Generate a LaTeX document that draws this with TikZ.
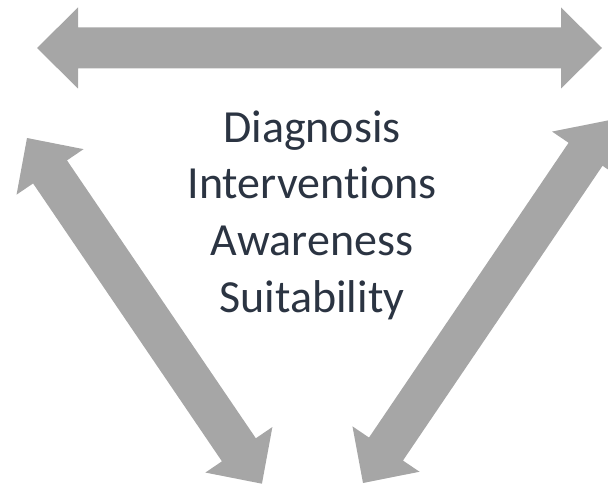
\documentclass[tikz,border=0pt]{standalone}
\usepackage{fontspec}
\setmainfont{Carlito}[Ligatures={NoCommon}]
\usetikzlibrary{positioning}
\definecolor{arrowgray}{HTML}{A6A6A6}
\definecolor{wordcolor}{HTML}{2B3442}
\tikzset{
  wordline/.style={anchor=base, inner sep=0pt, text=wordcolor,
    font=\fontsize{46}{56}\selectfont},
}

\begin{document}
\begin{tikzpicture}[x=1pt,y=-1pt]
  \useasboundingbox (0,0) rectangle (608,487);
  \def\hl{41}     % head length
  \def\hw{40.5}   % head half width
  \def\sw{20.5}   % shaft half width
  % tip x / tip y / angle / length
  \foreach \sx/\sy/\ang/\len in {37/48/0/565, 27/138/-55.8/418, 363/483/55.9/438} {
    \begin{scope}[shift={(\sx,\sy)}, rotate=\ang]
      \fill[arrowgray] (0,0) -- (\hl,\hw) -- (\hl,\sw) -- (\len-\hl,\sw)
        -- (\len-\hl,\hw) -- (\len,0) -- (\len-\hl,-\hw) -- (\len-\hl,-\sw)
        -- (\hl,-\sw) -- (\hl,-\hw) -- cycle;
    \end{scope}
  }
  \foreach \word [count=\i] in {Diagnosis,Interventions,Awareness,Suitability} {
    \node[wordline] (w\i) at (312, 142+56.7*\i-56.7) {\word};
  }
\end{tikzpicture}
\end{document}
